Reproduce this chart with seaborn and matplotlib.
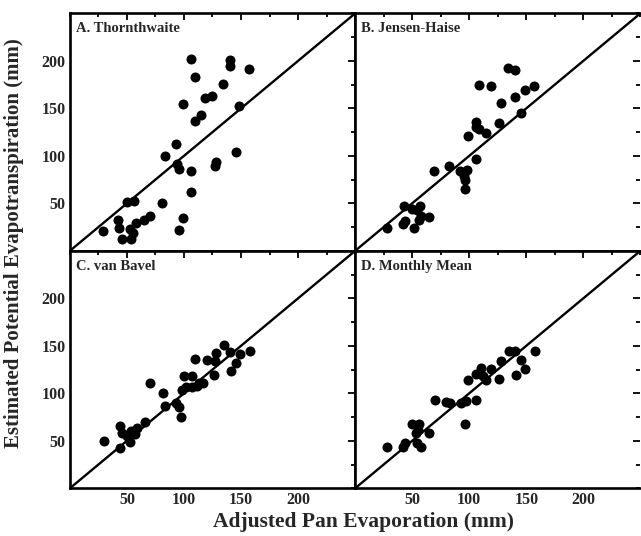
import numpy as np
import pandas as pd
import matplotlib
matplotlib.use("Agg")
import matplotlib.pyplot as plt
from matplotlib.ticker import MultipleLocator
import seaborn as sns

sns.set_theme(style="white")
plt.rcParams['font.family'] = ['Liberation Serif', 'DejaVu Serif']
plt.rcParams['font.weight'] = 'bold'

# Panel A: Thornthwaite
thorn_pan = [106, 140, 140, 157, 110, 134, 118, 125, 99, 148, 110, 115, 93, 83, 94, 96, 106,
             128, 127, 146, 106, 99, 96, 81, 50, 56, 42, 43, 29, 46, 54, 55, 53, 58, 65, 70]
thorn_et = [202, 201, 195, 191, 183, 176, 161, 163, 155, 152, 137, 143, 112, 100, 91, 86, 84,
            94, 89, 104, 62, 35, 22, 50, 51, 52, 33, 24, 21, 13, 13, 19, 23, 29, 33, 37]

# Panel B: Jensen-Haise
jensen_pan = [134, 140, 109, 119, 157, 149, 140, 128, 145, 126, 106, 106, 109, 115, 99, 106, 82,
              69, 92, 98, 95, 96, 96, 43, 57, 50, 58, 65, 44, 42, 52, 56, 28, 54]
jensen_et = [192, 190, 175, 174, 174, 169, 162, 156, 145, 135, 136, 130, 128, 124, 121, 97, 89,
             84, 84, 85, 79, 75, 65, 47, 47, 44, 37, 36, 31, 28, 24, 32, 24, 43]

# Panel C: van Bavel
bavel_pan = [30, 44, 44, 46, 53, 50, 54, 59, 57, 66, 70, 82, 83, 93, 96, 97, 98, 100, 102, 107,
             107, 111, 117, 110, 120, 128, 127, 126, 135, 140, 149, 158, 146, 141, 113]
bavel_et = [50, 42, 66, 58, 49, 55, 60, 64, 57, 70, 111, 100, 87, 90, 86, 75, 103, 118, 107, 118,
            107, 108, 111, 136, 135, 142, 134, 119, 151, 144, 141, 145, 132, 124, 111]

# Panel D: Monthly Mean
mean_pan = [28, 42, 44, 54, 58, 50, 56, 53, 55, 65, 70, 80, 83, 93, 97, 106, 96, 99, 106, 110,
            115, 112, 119, 126, 128, 135, 140, 145, 149, 141, 158]
mean_et = [43, 43, 48, 48, 43, 68, 68, 58, 61, 58, 93, 91, 90, 90, 92, 93, 68, 114, 120, 127,
           114, 118, 126, 115, 134, 145, 145, 135, 126, 119, 145]

panels = [
    ("A. Thornthwaite", thorn_pan, thorn_et),
    ("B. Jensen-Haise", jensen_pan, jensen_et),
    ("C. van Bavel", bavel_pan, bavel_et),
    ("D. Monthly Mean", mean_pan, mean_et),
]
ticks = [50, 100, 150, 200]
lim = 250

fig, axes = plt.subplots(2, 2, figsize=(6.41, 5.36), dpi=100, sharex=True, sharey=True)
fig.subplots_adjust(left=0.109, right=0.999, bottom=0.089, top=0.975, wspace=0, hspace=0)

for ax, (title, pan, et) in zip(axes.flat, panels):
    df = pd.DataFrame({"pan": pan, "et": et})
    ax.plot([0, lim], [0, lim], color="black", lw=1.7, zorder=1)
    sns.scatterplot(data=df, x="pan", y="et", ax=ax, color="black", s=52,
                    edgecolor="black", linewidth=0, zorder=2)
    ax.set_xlim(0, lim)
    ax.set_ylim(0, lim)
    ax.set_xticks(ticks)
    ax.set_yticks(ticks)
    ax.xaxis.set_minor_locator(MultipleLocator(25))
    ax.yaxis.set_minor_locator(MultipleLocator(25))
    ax.tick_params(which="both", direction="in", top=True, right=True, color="black",
                   width=1.3, labelsize=11.5, pad=3)
    ax.tick_params(which="major", length=5)
    ax.tick_params(which="minor", length=3)
    for lab in ax.get_xticklabels() + ax.get_yticklabels():
        lab.set_fontweight("bold")
    for sp in ax.spines.values():
        sp.set_color("black")
        sp.set_linewidth(1.9)
    ax.set_xlabel("")
    ax.set_ylabel("")
    ax.text(0.02, 0.935, title, transform=ax.transAxes, fontsize=10.5,
            fontweight="bold", ha="left", va="center")
    ax.grid(False)

axes[0, 1].spines["right"].set_visible(False)
axes[1, 1].spines["right"].set_visible(False)

fig.text(0.567, 0.026, "Adjusted Pan Evaporation (mm)", ha="center", va="center",
         fontsize=15.5, fontweight="bold")
fig.text(0.022, 0.547, "Estimated Potential Evapotranspiration (mm)", ha="center",
         va="center", rotation=90, fontsize=15, fontweight="bold")

fig.savefig("out.png", dpi=100)
